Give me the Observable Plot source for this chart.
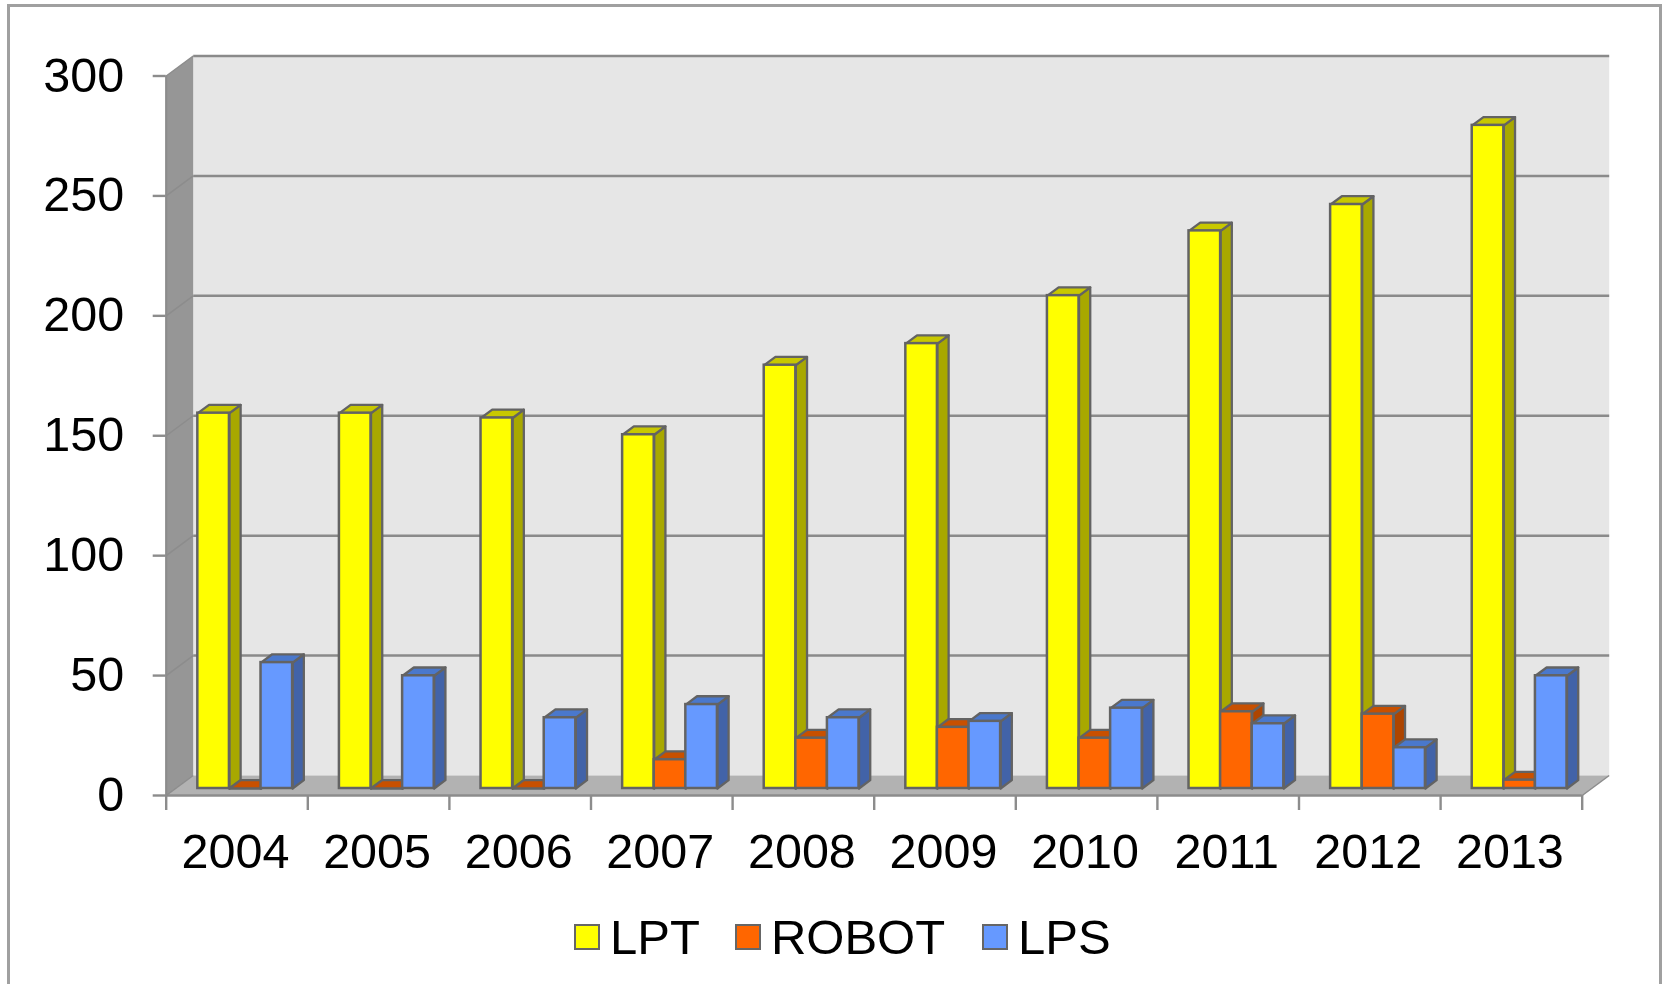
<!DOCTYPE html>
<html><head><meta charset="utf-8">
<script src="https://cdn.jsdelivr.net/npm/d3@7"></script>
<script src="https://cdn.jsdelivr.net/npm/@observablehq/plot@0.6"></script>
<style>
html,body{margin:0;padding:0;background:#fff;width:1662px;height:984px;overflow:hidden;font-family:"Liberation Sans",Arial,sans-serif}
#box{position:absolute;left:7px;top:4px;width:1649px;height:990px;border:3px solid #a0a0a0;box-sizing:content-box}
#chart{position:absolute;left:0;top:0}
#chart svg{overflow:visible;display:block;background:transparent}
#legend{position:absolute;left:574px;top:910px;display:flex;align-items:center;font-size:49px;line-height:54px;color:#000}
#legend i{display:inline-block;width:22px;height:22px;border:2.5px solid #666;margin-right:10px}
#legend span{display:inline-block}
</style></head><body>
<div id="box"></div><div id="chart"></div><div id="legend"></div>
<script>
const years=[2004,2005,2006,2007,2008,2009,2010,2011,2012,2013];
const LPT=[156.5,156.5,154.5,147.5,176.5,185.5,205.5,232.5,243.5,276.5];
const ROBOT=[0,0,0,12,21,25.5,21,32,31,3.5];
const LPS=[52.5,47,29.5,35,29.5,28,33.5,27,17,47];
const seriesNames=["LPT","ROBOT","LPS"];
const seriesValues=[LPT,ROBOT,LPS];
const frontColors=["#ffff00","#ff6600","#6699ff"];
const sideColors=["#a8a800","#ad4500","#4263a8"];
const topColors=["#c8c800","#c85000","#4a78cc"];
const yTicks=[0,50,100,150,200,250,300];

// Oblique projection of the 3D chart box, in data units.
const depthX=27/141.6, depthY=20/2.398;
const P=(x,v,d)=>({x:x+d*depthX,y:v+d*depthY});
const barW=31.6/141.6, barStart=0.1566, zFront=0.35, zBack=0.765;

const poly=(id,fill,pts)=>pts.concat(pts[0]).map(p=>({...p,id,fill}));
const x0=years[0], x1=years[years.length-1]+1, yMax=yTicks[yTicks.length-1];
const walls=[
  ...poly("back","#e6e6e6",[P(x0,0,1),P(x1,0,1),P(x1,yMax,1),P(x0,yMax,1)]),
  ...poly("left","#969696",[P(x0,0,0),P(x0,0,1),P(x0,yMax,1),P(x0,yMax,0)]),
  ...poly("floor","#b2b2b2",[P(x0,0,0),P(x1,0,0),P(x1,0,1),P(x0,0,1)])
];
const seriesMarks=seriesNames.flatMap((name,s)=>{
  const bars=years.map((yr,i)=>{
    const l=yr+barStart+s*barW, r=l+barW, v=seriesValues[s][i];
    return {yr,a:P(l,0,zFront),b:P(r,0,zFront),e:P(l,v,zFront),l,r,v};
  });
  const faces=bars.flatMap(b=>[
    ...poly(name+b.yr+"s",sideColors[s],[P(b.r,0,zFront),P(b.r,0,zBack),P(b.r,b.v,zBack),P(b.r,b.v,zFront)]),
    ...poly(name+b.yr+"t",topColors[s],[P(b.l,b.v,zFront),P(b.r,b.v,zFront),P(b.r,b.v,zBack),P(b.l,b.v,zBack)])
  ]);
  return [
    Plot.line(faces,{x:"x",y:"y",z:"id",fill:"fill",stroke:"#636363",strokeWidth:2.3,curve:"linear"}),
    Plot.rect(bars,{x1:d=>d.a.x,x2:d=>d.b.x,y1:d=>d.a.y,y2:d=>d.e.y,fill:frontColors[s],stroke:"#636363",strokeWidth:2.5})
  ];
});

const plot=Plot.plot({
  width:1662,height:880,marginLeft:165.7,marginRight:80.3,marginTop:75.5,marginBottom:85,
  style:{fontFamily:'"Liberation Sans",Arial,sans-serif',background:"transparent"},
  x:{type:"linear",domain:[x0,x1],axis:null},
  y:{type:"linear",domain:[0,yMax],axis:null},
  color:{type:"identity"},
  marks:[
    Plot.line(walls,{x:"x",y:"y",z:"id",fill:"fill",stroke:null}),
    Plot.link(yTicks,{x1:()=>P(x0,0,0).x,x2:()=>P(x0,0,1).x,y1:v=>P(0,v,0).y,y2:v=>P(0,v,1).y,stroke:"#8c8c8c",strokeWidth:1.5}),
    Plot.link(yTicks.slice(1),{x1:()=>P(x0,0,1).x,x2:()=>P(x1,0,1).x,y1:v=>P(0,v,1).y,y2:v=>P(0,v,1).y,stroke:"#8a8a8a",strokeWidth:2.5}),
    Plot.link([0],{x1:()=>P(x1,0,0).x,x2:()=>P(x1,0,1).x,y1:()=>0,y2:()=>P(0,0,1).y,stroke:"#8c8c8c",strokeWidth:1.5}),
    Plot.ruleX([x0],{y1:0,y2:yMax,stroke:"#8c8c8c",strokeWidth:2.2}),
    Plot.ruleY([0],{stroke:"#8c8c8c",strokeWidth:2.4}),
    Plot.axisY({ticks:yTicks,tickSize:13,tickPadding:29,fontSize:48.5,stroke:"#8c8c8c",strokeWidth:2.4,fill:"#000",label:null,tickFormat:d=>String(d)}),
    Plot.axisX({ticks:years.concat(x1),tickSize:15,tickFormat:()=>"",stroke:"#8c8c8c",strokeWidth:2.4,label:null}),
    Plot.axisX({ticks:years.map(y=>y+0.5),tickSize:0,tickPadding:38.5,dx:-1.5,fontSize:48.5,fill:"#000",label:null,tickFormat:d=>String(d-0.5)}),
    ...seriesMarks
  ]
});
document.getElementById("chart").append(plot);

const gaps=[35,37,0];
const lg=document.getElementById("legend");
seriesNames.forEach((n,i)=>{
  const sw=document.createElement("i");sw.style.background=frontColors[i];
  const t=document.createElement("span");t.textContent=n;t.style.marginRight=gaps[i]+"px";
  lg.append(sw,t);
});
</script>
</body></html>
